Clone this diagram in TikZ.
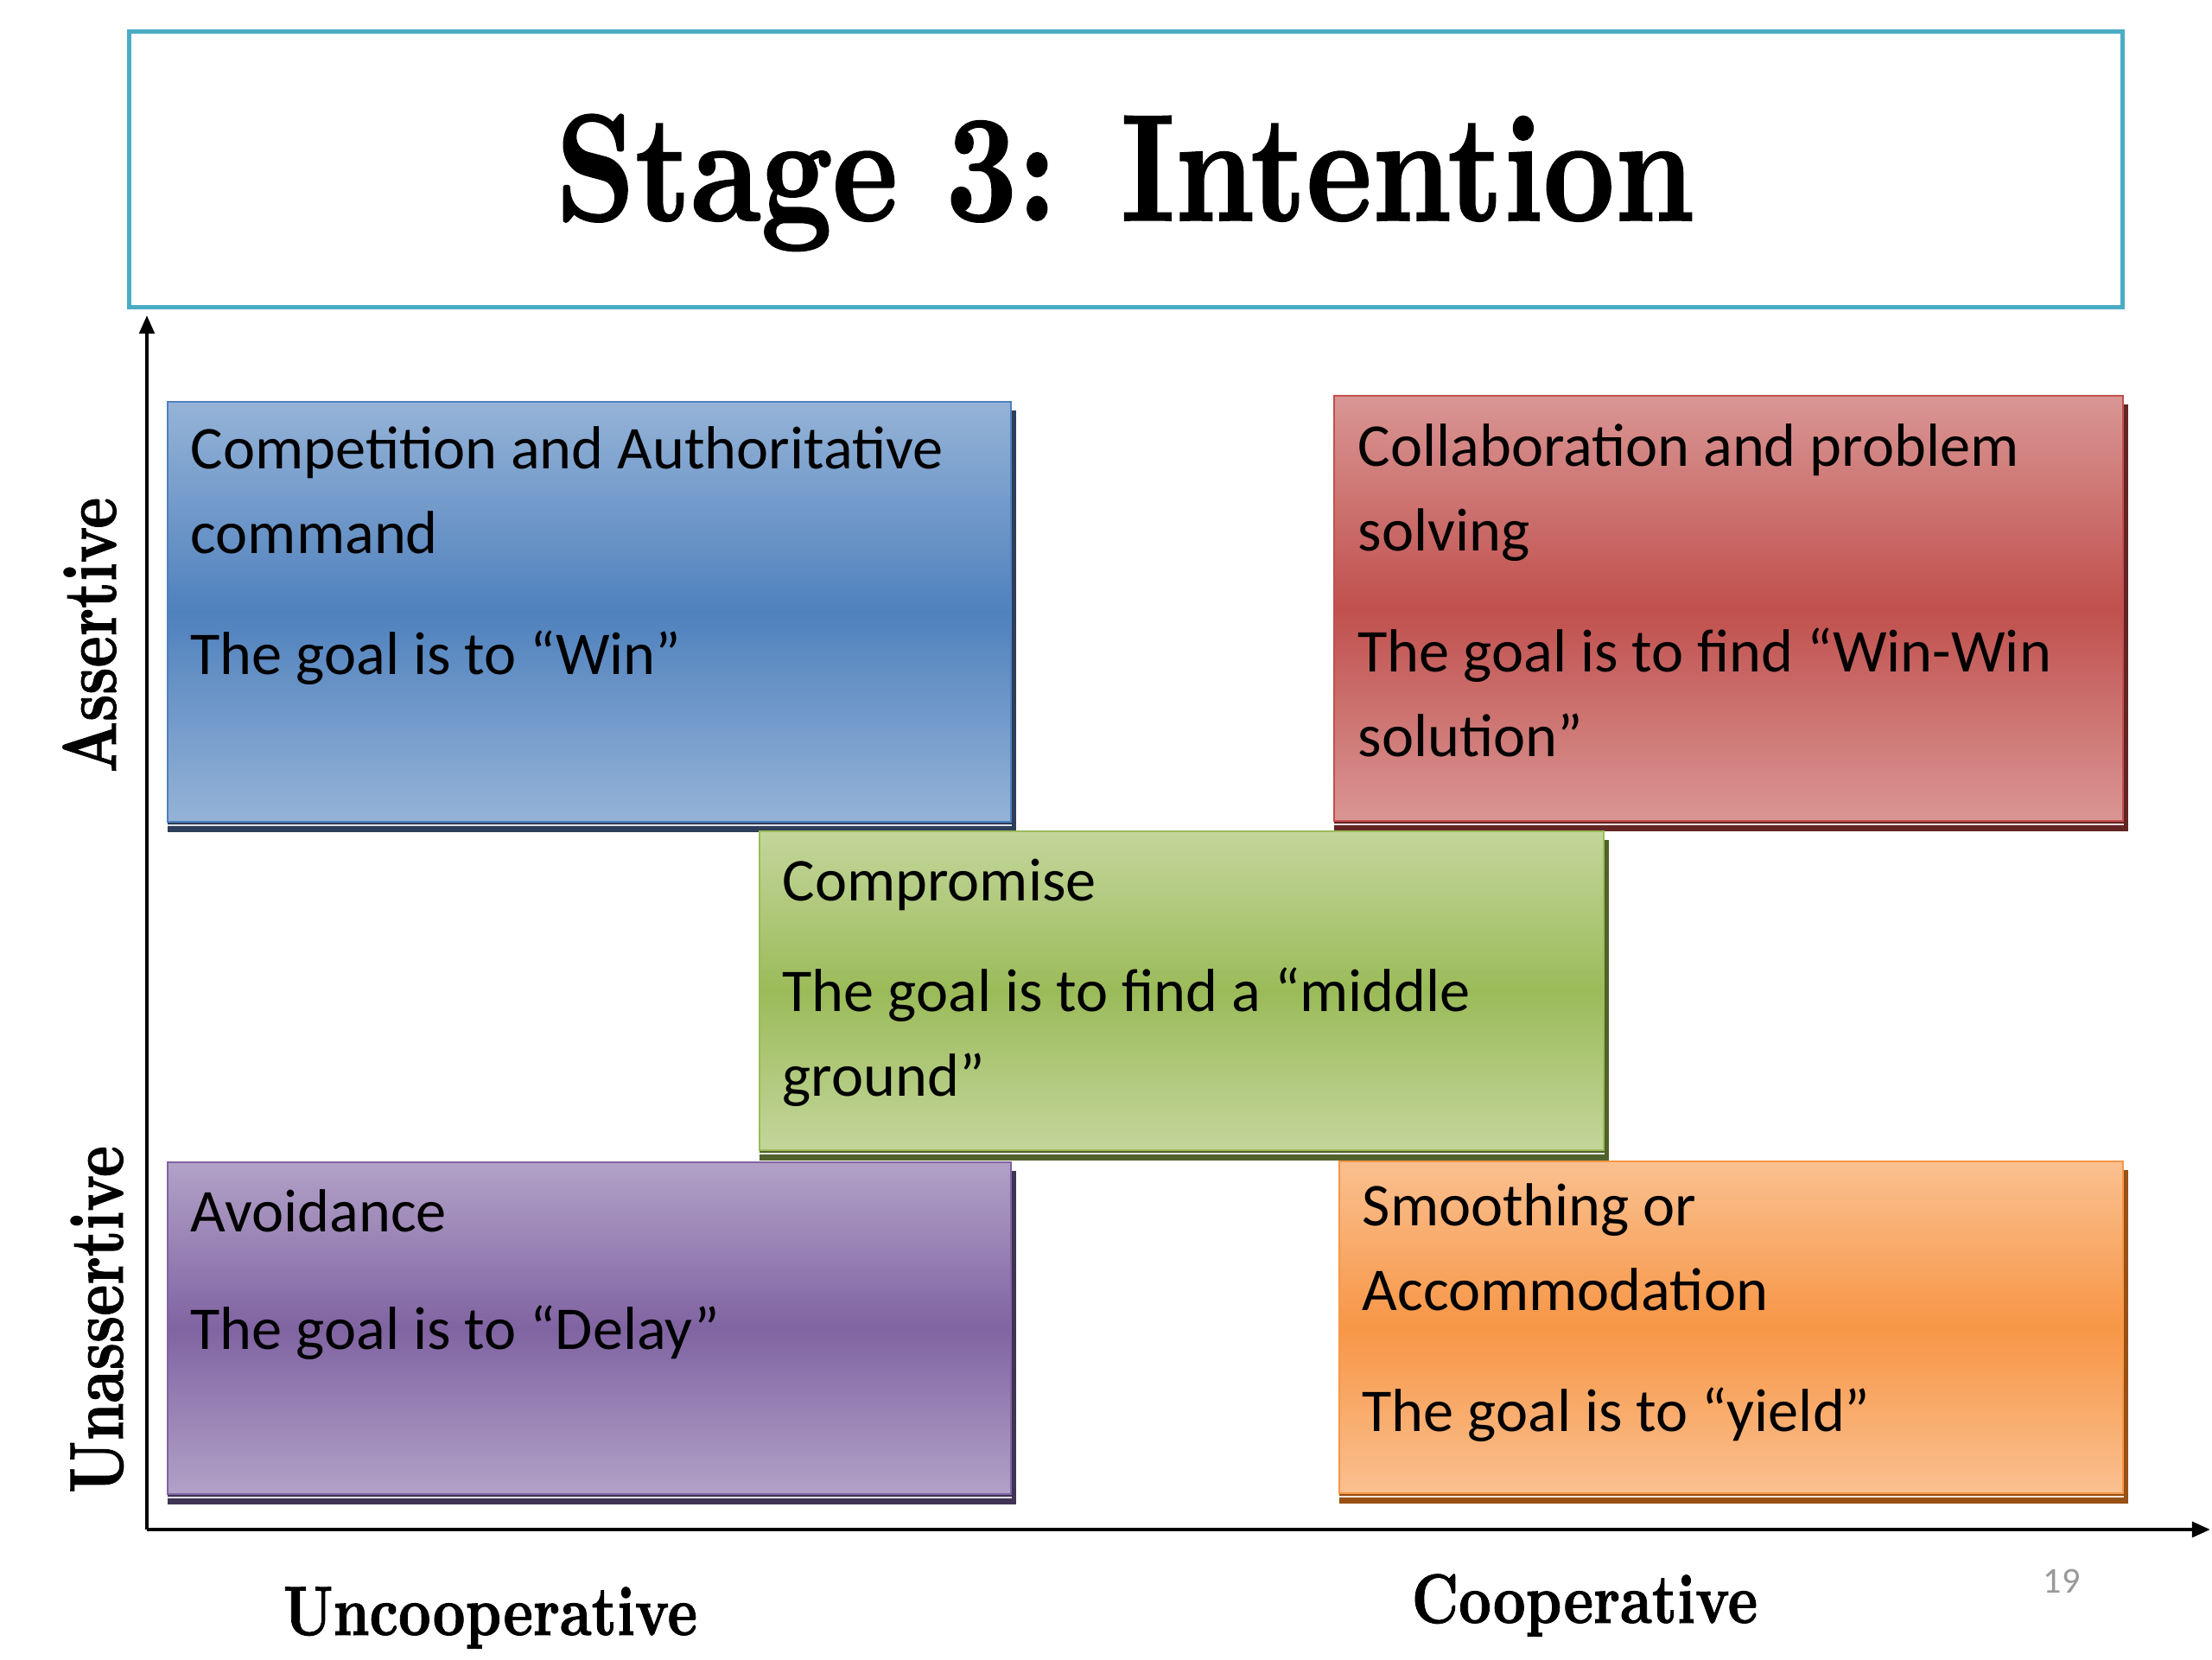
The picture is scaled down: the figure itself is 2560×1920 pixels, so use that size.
\documentclass[tikz,border=0pt]{standalone}
\usepackage{graphicx}
\usepackage{fontspec}
\newfontfamily\calibri{Carlito}
\newfontfamily\heavyserif[Extension=.otf, UprightFont=*, FakeBold=1.2]{lmroman10-bold}
\usetikzlibrary{arrows.meta}
\definecolor{tealb}{RGB}{75,172,198}
\definecolor{bluL}{RGB}{149,179,215}\definecolor{bluM}{RGB}{79,129,189}\definecolor{bluD}{RGB}{45,62,90}
\definecolor{redL}{RGB}{217,150,148}\definecolor{redM}{RGB}{192,80,77}\definecolor{redD}{RGB}{99,37,35}
\definecolor{grnL}{RGB}{195,214,155}\definecolor{grnM}{RGB}{155,187,89}\definecolor{grnD}{RGB}{80,97,43}
\definecolor{purL}{RGB}{178,161,199}\definecolor{purM}{RGB}{128,100,162}\definecolor{purD}{RGB}{64,52,84}
\definecolor{ornL}{RGB}{250,192,144}\definecolor{ornM}{RGB}{247,150,70}\definecolor{ornD}{RGB}{152,80,20}
\pgfdeclarelayer{bg}\pgfdeclarelayer{shad}
\pgfsetlayers{bg,shad,main}
\tikzset{
  qbox/.style={draw=#1M, line width=0.6pt, rectangle, inner sep=0pt, anchor=north west,
    top color=#1L, bottom color=#1L, middle color=#1M},
  qtext/.style={anchor=base west, inner sep=0pt,
    font=\calibri\fontsize{20}{27.9}\selectfont},
  axislbl/.style={inner sep=0pt, font=\heavyserif\fontsize{25}{30}\selectfont},
  axisline/.style={line width=1pt, -{Triangle[length=6pt,width=5pt]}},
}
\newcommand{\qshadow}[2]{%
  \begin{pgfonlayer}{shad}
    \fill[#2D] ([shift={(1,11)}]#1.north west) rectangle ([shift={(5,11)}]#1.south east);
  \end{pgfonlayer}
  \draw[white, line width=0.6pt, opacity=0.85] ([shift={(0,3)}]#1.south west) -- ([shift={(0,3)}]#1.south east);
}
\newcommand{\hsq}[1]{\scalebox{0.78}[1]{#1}}
\newcommand{\qlines}[1]{\parbox[t]{8.8cm}{\raggedright #1}}
\begin{document}
\begin{tikzpicture}[x=0.01cm,y=-0.01cm]
\useasboundingbox (0,0) rectangle (2560,1920);
\begin{pgfonlayer}{bg}
  \fill[white] (0,0) rectangle (2560,1920);
\end{pgfonlayer}

% title
\node[draw=tealb, line width=1.4pt, fill=white, anchor=north west, inner sep=0pt,
  minimum width=23.06cm, minimum height=3.19cm] (titlebox) at (147,34) {};
\node[anchor=base, inner sep=0pt, font=\heavyserif\fontsize{50}{60}\selectfont] (title) at (1302,255)
  {\scalebox{0.82}[1]{Stage 3: Intention}};

% axes
\coordinate (O) at (170,1770);
\coordinate (ytip) at (170,365);
\coordinate (xtip) at (2558,1770);
\draw[axisline] (O) -- (ytip);
\draw[axisline, line width=1.2pt] (O) -- (xtip);

% boxes
\node[qbox=blu, minimum width=9.75cm, minimum height=4.86cm] (comp) at (193,464) {};
\qshadow{comp}{blu}
\node[qbox=red, minimum width=9.12cm, minimum height=4.92cm] (coll) at (1543,457) {};
\qshadow{coll}{red}
\node[qbox=grn, minimum width=9.76cm, minimum height=3.69cm] (compro) at (878,961) {};
\qshadow{compro}{grn}
\node[qbox=pur, minimum width=9.75cm, minimum height=3.84cm] (avoid) at (193,1344) {};
\qshadow{avoid}{pur}
\node[qbox=orn, minimum width=9.06cm, minimum height=3.84cm] (smooth) at (1549,1343) {};
\qshadow{smooth}{orn}

% box texts
\node[qtext] (compT) at (220,542) {\qlines{Competition and Authoritative\\command\\[12pt]The goal is to “Win”}};
\node[qtext] (collT) at (1571,539) {\qlines{Collaboration and problem\\solving\\[12pt]The goal is to find “Win-Win\\solution”}};
\node[qtext] (comproT) at (905,1042) {\qlines{Compromise\\[8.5pt]The goal is to find a “middle\\ground”}};
\node[qtext] (avoidT) at (220,1425) {\qlines{Avoidance\\[11pt]The goal is to “Delay”}};
\node[qtext] (smoothT) at (1576,1418) {\qlines{Smoothing or\\Accommodation\\[12pt]The goal is to “yield”}};

% axis labels
\node[axislbl, anchor=base, rotate=90] (assert) at (134,735) {\hsq{Assertive}};
\node[axislbl, anchor=base, rotate=90] (unassert) at (142,1527) {\hsq{Unassertive}};
\node[axislbl, anchor=base west, font=\heavyserif\fontsize{23}{28}\selectfont] (uncoop) at (327,1892) {\scalebox{0.81}[1]{Uncooperative}};
\node[axislbl, anchor=base west, font=\heavyserif\fontsize{23}{28}\selectfont] (coop) at (1633,1878) {\scalebox{0.81}[1]{Cooperative}};
\node[anchor=base west, inner sep=0pt, text=black!40, font=\calibri\fontsize{12}{14}\selectfont] (pg) at (2364,1843) {19};
\end{tikzpicture}
\end{document}
